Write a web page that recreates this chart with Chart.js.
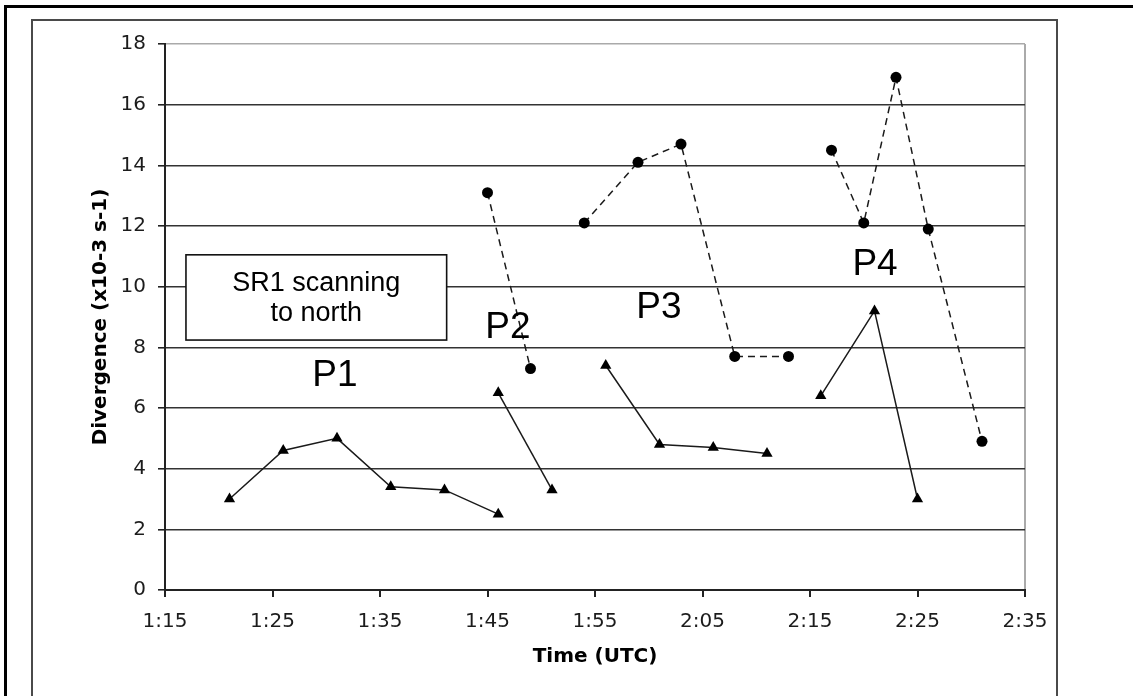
<!DOCTYPE html>
<html>
<head>
<meta charset="utf-8">
<script src="https://cdn.jsdelivr.net/npm/chart.js@4.4.1/dist/chart.umd.min.js"></script>
<style>
  html, body { margin: 0; padding: 0; background: #fff; }
  #wrap { position: relative; width: 1133px; height: 696px; overflow: hidden; }
  #c { position: absolute; left: 0; top: 0; }
  .outer { position: absolute; left: 4px; top: 5px; width: 1200px; height: 800px;
           border-top: 3px solid #000; border-left: 3px solid #000; pointer-events: none; }
  .inner { position: absolute; left: 31px; top: 19px; width: 1023px; height: 800px;
           border-top: 2px solid #4a4a4a; border-left: 2px solid #4a4a4a; border-right: 2px solid #4a4a4a;
           pointer-events: none; }
</style>
</head>
<body>
<div id="wrap">
  <canvas id="c" width="1133" height="696"></canvas>
  <div class="outer"></div>
  <div class="inner"></div>
</div>
<script>
// ---- Data ----
const xTickLabels = ['1:15','1:25','1:35','1:45','1:55','2:05','2:15','2:25','2:35'];
const yTickValues = [0,2,4,6,8,10,12,14,16,18];

// Triangles, solid line
const p1TriTimes  = ['1:21','1:26','1:31','1:36','1:41','1:46'];
const p1TriValues = [3.0, 4.6, 5.0, 3.4, 3.3, 2.5];
const p2TriTimes  = ['1:46','1:51'];
const p2TriValues = [6.5, 3.3];
const p3TriTimes  = ['1:56','2:01','2:06','2:11'];
const p3TriValues = [7.4, 4.8, 4.7, 4.5];
const p4TriTimes  = ['2:16','2:21','2:25'];
const p4TriValues = [6.4, 9.2, 3.0];

// Circles, dashed line
const p2CircTimes  = ['1:45','1:49'];
const p2CircValues = [13.1, 7.3];
const p3CircTimes  = ['1:54','1:59','2:03','2:08','2:13'];
const p3CircValues = [12.1, 14.1, 14.7, 7.7, 7.7];
const p4CircTimes  = ['2:17','2:20','2:23','2:26','2:31'];
const p4CircValues = [14.5, 12.1, 16.9, 11.9, 4.9];

// Annotation texts
const boxLines = ['SR1 scanning', 'to north'];
const periodLabels = ['P1','P2','P3','P4'];

// ---- helpers ----
function toMin(t) { const [h, m] = t.split(':').map(Number); return h * 60 + m; }
function fmt(v) { const h = Math.floor(v / 60), m = Math.round(v - h * 60); return h + ':' + String(m).padStart(2, '0'); }
function pts(times, vals) { return times.map((t, i) => ({ x: toMin(t), y: vals[i] })); }

const xMin = toMin(xTickLabels[0]);
const xMax = toMin(xTickLabels[xTickLabels.length - 1]);

const triStyle = {
  borderColor: '#1a1a1a', backgroundColor: '#000', borderWidth: 1.5,
  pointStyle: 'triangle', pointRadius: 6.5, pointBorderWidth: 0, pointBackgroundColor: '#000',
  tension: 0, showLine: true, fill: false
};
const circStyle = {
  borderColor: '#1a1a1a', backgroundColor: '#000', borderWidth: 1.5, borderDash: [7, 5],
  pointStyle: 'circle', pointRadius: 5.5, pointBorderWidth: 0, pointBackgroundColor: '#000',
  tension: 0, showLine: true, fill: false
};

const datasets = [
  Object.assign({ data: pts(p1TriTimes, p1TriValues) }, triStyle),
  Object.assign({ data: pts(p2TriTimes, p2TriValues) }, triStyle),
  Object.assign({ data: pts(p3TriTimes, p3TriValues) }, triStyle),
  Object.assign({ data: pts(p4TriTimes, p4TriValues) }, triStyle),
  Object.assign({ data: pts(p2CircTimes, p2CircValues) }, circStyle),
  Object.assign({ data: pts(p3CircTimes, p3CircValues) }, circStyle),
  Object.assign({ data: pts(p4CircTimes, p4CircValues) }, circStyle)
];

// annotation anchors in data coordinates (minutes, value)
const boxAnchor = { x0: toMin('1:16') + 0.95, x1: toMin('1:41') + 0.2, yTop: 11.05, yBottom: 8.24 };
const labelAnchors = [
  { x: toMin('1:30') + 0.8, y: 7.09 },
  { x: toMin('1:46') + 0.9, y: 8.67 },
  { x: toMin('2:01') - 0.05, y: 9.33 },
  { x: toMin('2:21') + 0.05, y: 10.76 }
];

const annotPlugin = {
  id: 'annot',
  afterDatasetsDraw(chart) {
    const { ctx, scales: { x, y } } = chart;
    ctx.save();
    // box
    const bx0 = x.getPixelForValue(boxAnchor.x0), bx1 = x.getPixelForValue(boxAnchor.x1);
    const by0 = y.getPixelForValue(boxAnchor.yTop), by1 = y.getPixelForValue(boxAnchor.yBottom);
    ctx.fillStyle = '#fff';
    ctx.fillRect(bx0, by0, bx1 - bx0, by1 - by0);
    ctx.strokeStyle = '#111';
    ctx.lineWidth = 1.6;
    ctx.strokeRect(bx0, by0, bx1 - bx0, by1 - by0);
    ctx.fillStyle = '#000';
    ctx.font = '27px "Liberation Sans", Arial, sans-serif';
    ctx.textAlign = 'center';
    ctx.textBaseline = 'middle';
    const cx = (bx0 + bx1) / 2, cy = (by0 + by1) / 2;
    ctx.fillText(boxLines[0], cx, cy - 14);
    ctx.fillText(boxLines[1], cx, cy + 16);
    // period labels
    ctx.font = '37px "Liberation Sans", Arial, sans-serif';
    periodLabels.forEach((t, i) => {
      ctx.fillText(t, x.getPixelForValue(labelAnchors[i].x), y.getPixelForValue(labelAnchors[i].y) + 1);
    });
    ctx.restore();
  }
};

new Chart(document.getElementById('c'), {
  type: 'scatter',
  data: { datasets },
  plugins: [annotPlugin],
  options: {
    responsive: false,
    animation: false,
    events: [],
    layout: { padding: { left: 0, right: 108, top: 44, bottom: 0 } },
    plugins: { legend: { display: false }, tooltip: { enabled: false } },
    scales: {
      x: {
        type: 'linear', min: xMin, max: xMax,
        afterFit(s) { s.height = 106; },
        afterBuildTicks(s) { s.ticks = xTickLabels.map(t => ({ value: toMin(t) })); },
        ticks: {
          callback: v => fmt(v), color: '#1c1c1c', padding: 13,
          font: { family: '"DejaVu Sans", Verdana, sans-serif', size: 20 },
          maxRotation: 0, autoSkip: false
        },
        grid: {
          color: c => (c.tick && c.tick.value === xMax) ? '#aaaaaa' : 'rgba(0,0,0,0)',
          lineWidth: 2, tickColor: '#222', tickLength: 7, drawOnChartArea: true
        },
        border: { color: '#222', width: 2 },
        title: {
          display: true, text: 'Time (UTC)', color: '#000',
          font: { family: '"DejaVu Sans", Verdana, sans-serif', size: 20, weight: 'bold' },
          padding: { top: 0, bottom: 27 }
        }
      },
      y: {
        type: 'linear', min: 0, max: 18,
        afterFit(s) { s.width = 165; },
        afterBuildTicks(s) { s.ticks = yTickValues.map(v => ({ value: v })); },
        ticks: {
          color: '#1c1c1c', padding: 12,
          font: { family: '"DejaVu Sans", Verdana, sans-serif', size: 20 }
        },
        grid: {
          color: c => (c.tick && c.tick.value === 18) ? '#aaaaaa' : '#333333',
          lineWidth: 1.6, tickColor: '#222', tickLength: 7
        },
        border: { color: '#222', width: 2 },
        title: {
          display: true, text: 'Divergence (x10-3 s-1)', color: '#000',
          font: { family: '"DejaVu Sans", Verdana, sans-serif', size: 20, weight: 'bold' },
          padding: { top: 89, bottom: 0 }
        }
      }
    }
  }
});
</script>
</body>
</html>
